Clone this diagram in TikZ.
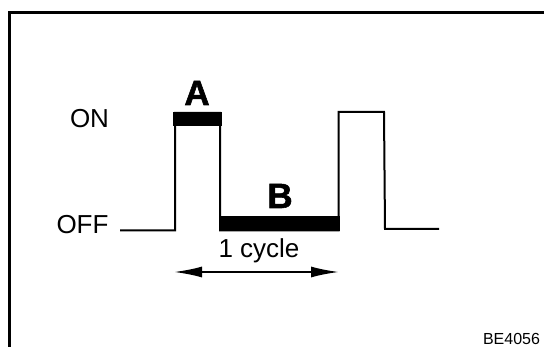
\documentclass[tikz,border=0pt]{standalone}
\usepackage{fontspec}
\setmainfont{Liberation Sans}
\newfontfamily\heavyfont[FakeBold=1.6]{Liberation Sans Bold}
\usetikzlibrary{arrows.meta}
\tikzset{
  wave/.style={line width=2pt,line join=miter},
  frameline/.style={line width=2.2pt,line join=miter},
  thickbar/.style={fill=black,draw=none},
  lbl/.style={inner sep=0pt,anchor=base,font=\fontsize{26}{26}\selectfont},
  bigl/.style={inner sep=0pt,anchor=base,font=\fontsize{35}{35}\selectfont\heavyfont},
  span/.style={line width=1.9pt,{Latex[length=28pt,width=11pt]}-{Latex[length=28pt,width=11pt]}}
}
\begin{document}
\begin{tikzpicture}[x=1pt,y=-1pt]
\useasboundingbox[fill=white] (0,0) rectangle (544,347);
\draw[frameline] (9.5,347) -- (9.5,12.5) -- (544,12.5);
\draw[wave] (120,230.5) -- (175,230.5) -- (175,113) -- (220,113) -- (220,230.5) -- (338.5,230.5) -- (338.5,112) -- (384,112) -- (385,229) -- (439,229);
\fill[thickbar] (173,112) rectangle (221.5,126);
\fill[thickbar] (220,216) rectangle (339.5,231);
\coordinate (l) at (174,272);
\coordinate (r) at (339,272);
\draw[span] (l) -- (r);
\node[lbl] (on) at (89.5,128) {ON};
\node[lbl] (off) at (82.5,234) {OFF};
\node[lbl] (cycle) at (259,257.5) {1 cycle};
\node[bigl] (a) at (197,105) {A};
\node[bigl] (b) at (280,208) {B};
\node[inner sep=0pt,anchor=base,font=\fontsize{16}{16}\selectfont] (code) at (511.5,345) {BE4056};
\end{tikzpicture}
\end{document}
